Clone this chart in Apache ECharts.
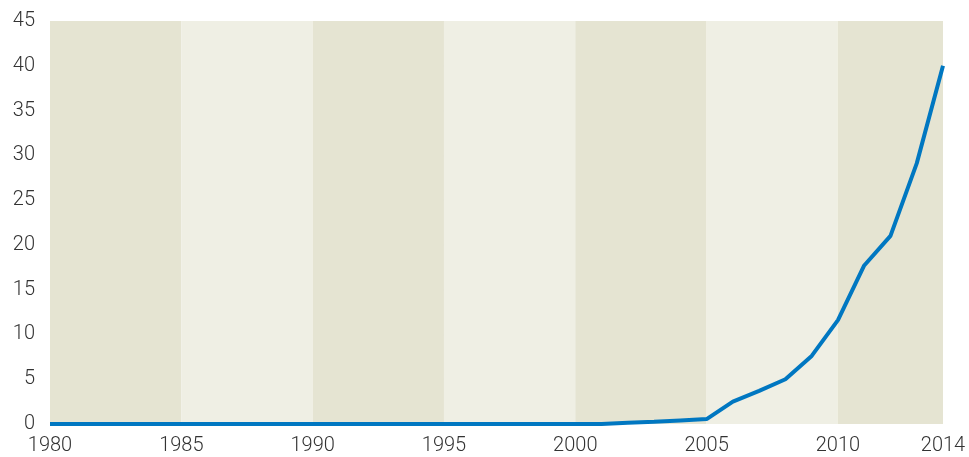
<!DOCTYPE html>
<html>
<head>
<meta charset="utf-8">
<script src="https://cdn.jsdelivr.net/npm/echarts@6/dist/echarts.min.js"></script>
<style>
    html, body { margin: 0; padding: 0; background: #fff; }
    #chart { width: 969px; height: 457px; }
</style>
</head>
<body>
<div id="chart"></div>
<script>
var years = [1980, 1981, 1982, 1983, 1984, 1985, 1986, 1987, 1988, 1989,
    1990, 1991, 1992, 1993, 1994, 1995, 1996, 1997, 1998, 1999,
    2000, 2001, 2002, 2003, 2004, 2005, 2006, 2007, 2008, 2009,
    2010, 2011, 2012, 2013, 2014];
var values = [0, 0, 0, 0, 0, 0, 0, 0, 0, 0,
    0, 0, 0, 0, 0, 0, 0, 0, 0, 0,
    0, 0, 0.15, 0.25, 0.4, 0.55, 2.5, 3.7, 5.0, 7.6,
    11.6, 17.7, 21, 29.1, 40];
var yTicks = [0, 5, 10, 15, 20, 25, 30, 35, 40, 45];

var pageObj = {
    buildData: function () {
        var data = [];
        for (var i = 0; i < years.length; i++) {
            data.push([years[i], values[i]]);
        }
        return data;
    },

    drawChart: function () {
        var labelStyle = {
            color: '#333',
            fontSize: 20,
            fontWeight: 300,
            fontFamily: 'Roboto'
        };
        var option = {
            animation: false,
            grid: {left: 50, right: 26, top: 21, bottom: 33, containLabel: false},
            xAxis: {
                type: 'value',
                min: 1980, max: 2014, interval: 5,
                axisLine: {show: false},
                axisTick: {show: false},
                splitLine: {show: false},
                splitArea: {show: true, areaStyle: {color: ['#e5e4d2', '#efefe4']}},
                axisLabel: $merge(labelStyle, {
                    margin: 12, showMaxLabel: true, showMinLabel: true,
                    formatter: function (v) { return String(v); }
                })
            },
            yAxis: {
                type: 'value',
                min: yTicks[0], max: yTicks[yTicks.length - 1], interval: 5,
                axisLine: {show: false},
                axisTick: {show: false},
                splitLine: {show: true, lineStyle: {color: '#ffffff', width: 1.5}},
                axisLabel: $merge(labelStyle, {margin: 15})
            },
            series: [{
                type: 'line',
                data: pageObj.buildData(),
                symbol: 'none',
                lineStyle: {color: '#0077c1', width: 4},
                z: 5
            }]
        };
        var myChart = echarts.init(document.getElementById('chart'));
        myChart.setOption(option);
    }
};

function $merge(a, b) {
    var out = {};
    for (var k in a) out[k] = a[k];
    for (var k2 in b) out[k2] = b[k2];
    return out;
}

pageObj.drawChart();
</script>
</body>
</html>
